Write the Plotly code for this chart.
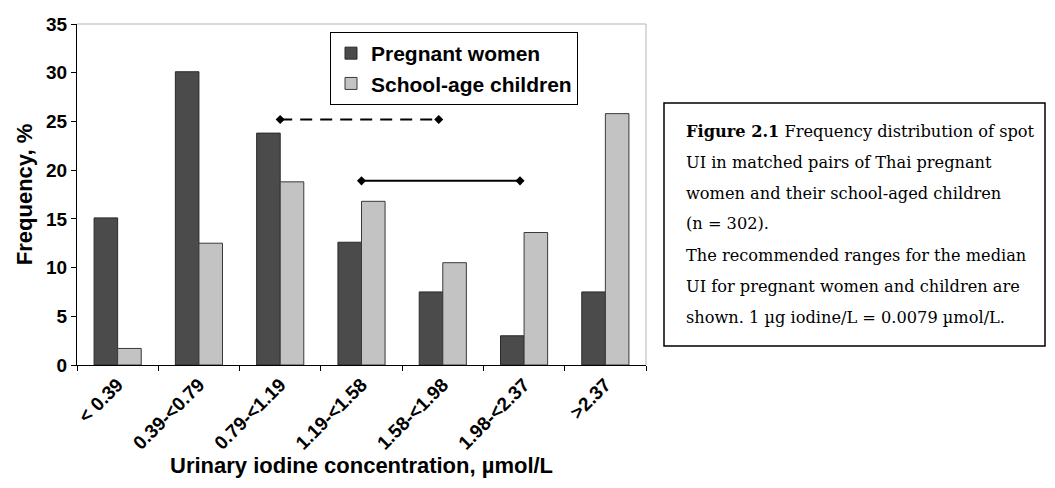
import plotly.graph_objects as go

# ---------------- data ----------------
categories = ["< 0.39", "0.39-<0.79", "0.79-<1.19", "1.19-<1.58",
              "1.58-<1.98", "1.98-<2.37", ">2.37"]
pregnant = [15.1, 30.1, 23.8, 12.6, 7.5, 3.0, 7.5]
children = [1.7, 12.5, 18.8, 16.8, 10.5, 13.6, 25.8]
series_names = ["Pregnant women", "School-age children"]

# recommended median UI ranges (category-index units, y in %)
pregnant_range_x = [2.0, 3.95]
pregnant_range_y = [25.2, 25.2]
children_range_x = [3.0, 4.95]
children_range_y = [18.9, 18.9]

y_ticks = [0, 5, 10, 15, 20, 25, 30, 35]

x_title = "Urinary iodine concentration, µmol/L"
y_title = "Frequency, %"

caption_lines = [
    "<b>Figure 2.1</b> Frequency distribution of spot",
    "UI in matched pairs of Thai pregnant",
    "women and their school-aged children",
    "(n = 302).",
    "The recommended ranges for the median",
    "UI for pregnant women and children are",
    "shown. 1 µg iodine/L = 0.0079 µmol/L.",
]

# ---------------- layout helpers ----------------
OFF = 8                      # default page margin of the html body
W, H = 1055 - 2 * OFF, 488 - 2 * OFF
L, R, T, B = 77, 646, 24, 365   # plot area in screen pixels


def px2x(px):
    return (px - L) / (R - L)


def py2y(py):
    return (B - py) / (B - T)


SANS = "Arial, Liberation Sans, sans-serif"
SERIF = "DejaVu Serif, serif"

fig = go.Figure()
fig.add_trace(go.Bar(x=categories, y=pregnant, name=series_names[0],
                     marker=dict(color="#4b4b4b", line=dict(color="#2a2a2a", width=1))))
fig.add_trace(go.Bar(x=categories, y=children, name=series_names[1],
                     marker=dict(color="#c3c3c3", line=dict(color="#3a3a3a", width=1))))

fig.add_trace(go.Scatter(x=pregnant_range_x, y=pregnant_range_y, xaxis="x2",
                         mode="lines+markers", showlegend=False,
                         line=dict(color="black", width=2, dash="12px,8px"),
                         marker=dict(symbol="diamond", size=7, color="black")))
fig.add_trace(go.Scatter(x=children_range_x, y=children_range_y, xaxis="x2",
                         mode="lines+markers", showlegend=False,
                         line=dict(color="black", width=2),
                         marker=dict(symbol="diamond", size=7, color="black")))

shapes = [
    dict(type="line", xref="paper", yref="paper", x0=0, x1=1, y0=1, y1=1,
         line=dict(color="#b5b5b5", width=1)),
    dict(type="line", xref="paper", yref="paper", x0=1, x1=1, y0=0, y1=1,
         line=dict(color="#b5b5b5", width=1)),
    dict(type="rect", xref="paper", yref="paper",
         x0=px2x(664), x1=px2x(1045), y0=py2y(346), y1=py2y(103),
         line=dict(color="black", width=1.5), fillcolor="white"),
]

annotations = [
    dict(xref="paper", yref="paper", x=0.5, y=py2y(465), xanchor="center",
         yanchor="middle", showarrow=False, text=x_title,
         font=dict(family=SANS, size=22, color="black", weight="bold")),
]
line_y0, line_step = 131, 31
for i, txt in enumerate(caption_lines):
    annotations.append(dict(
        xref="paper", yref="paper", x=px2x(684), y=py2y(line_y0 + i * line_step),
        xanchor="left", yanchor="middle", showarrow=False, text=txt,
        font=dict(family=SERIF, size=16.2, color="black")))

fig.update_layout(
    width=W, height=H,
    margin=dict(l=L - OFF, r=(W + OFF) - R, t=T - OFF, b=(H + OFF) - B, pad=0,
                autoexpand=False),
    paper_bgcolor="white", plot_bgcolor="white",
    barmode="group", bargap=0.42, bargroupgap=0.0,
    font=dict(family=SANS, color="black"),
    shapes=shapes, annotations=annotations,
    legend=dict(x=px2x(330), y=py2y(32), xanchor="left", yanchor="top",
                bordercolor="black", borderwidth=1, bgcolor="white",
                itemwidth=30, tracegroupgap=0,
                font=dict(family=SANS, size=21, color="black", weight="bold")),
    xaxis=dict(type="category", showline=True, linecolor="black", linewidth=1.3,
               automargin=False,
               ticks="outside", tickson="boundaries", ticklen=5, tickcolor="black",
               tickangle=-45, showgrid=False,
               tickfont=dict(family=SANS, size=19, color="black", weight="bold")),
    xaxis2=dict(overlaying="x", range=[-0.5, 6.5], visible=False),
    yaxis=dict(range=[0, 35], tickvals=y_ticks, showline=True, linecolor="black",
               linewidth=1.3, ticks="outside", ticklen=5, tickcolor="black",
               automargin=False,
               showgrid=False, zeroline=False,
               tickfont=dict(family=SANS, size=19, color="black", weight="bold"),
               title=dict(text=y_title, standoff=7,
                          font=dict(family=SANS, size=22, color="black", weight="bold"))),
)

fig.write_html("out.html")
